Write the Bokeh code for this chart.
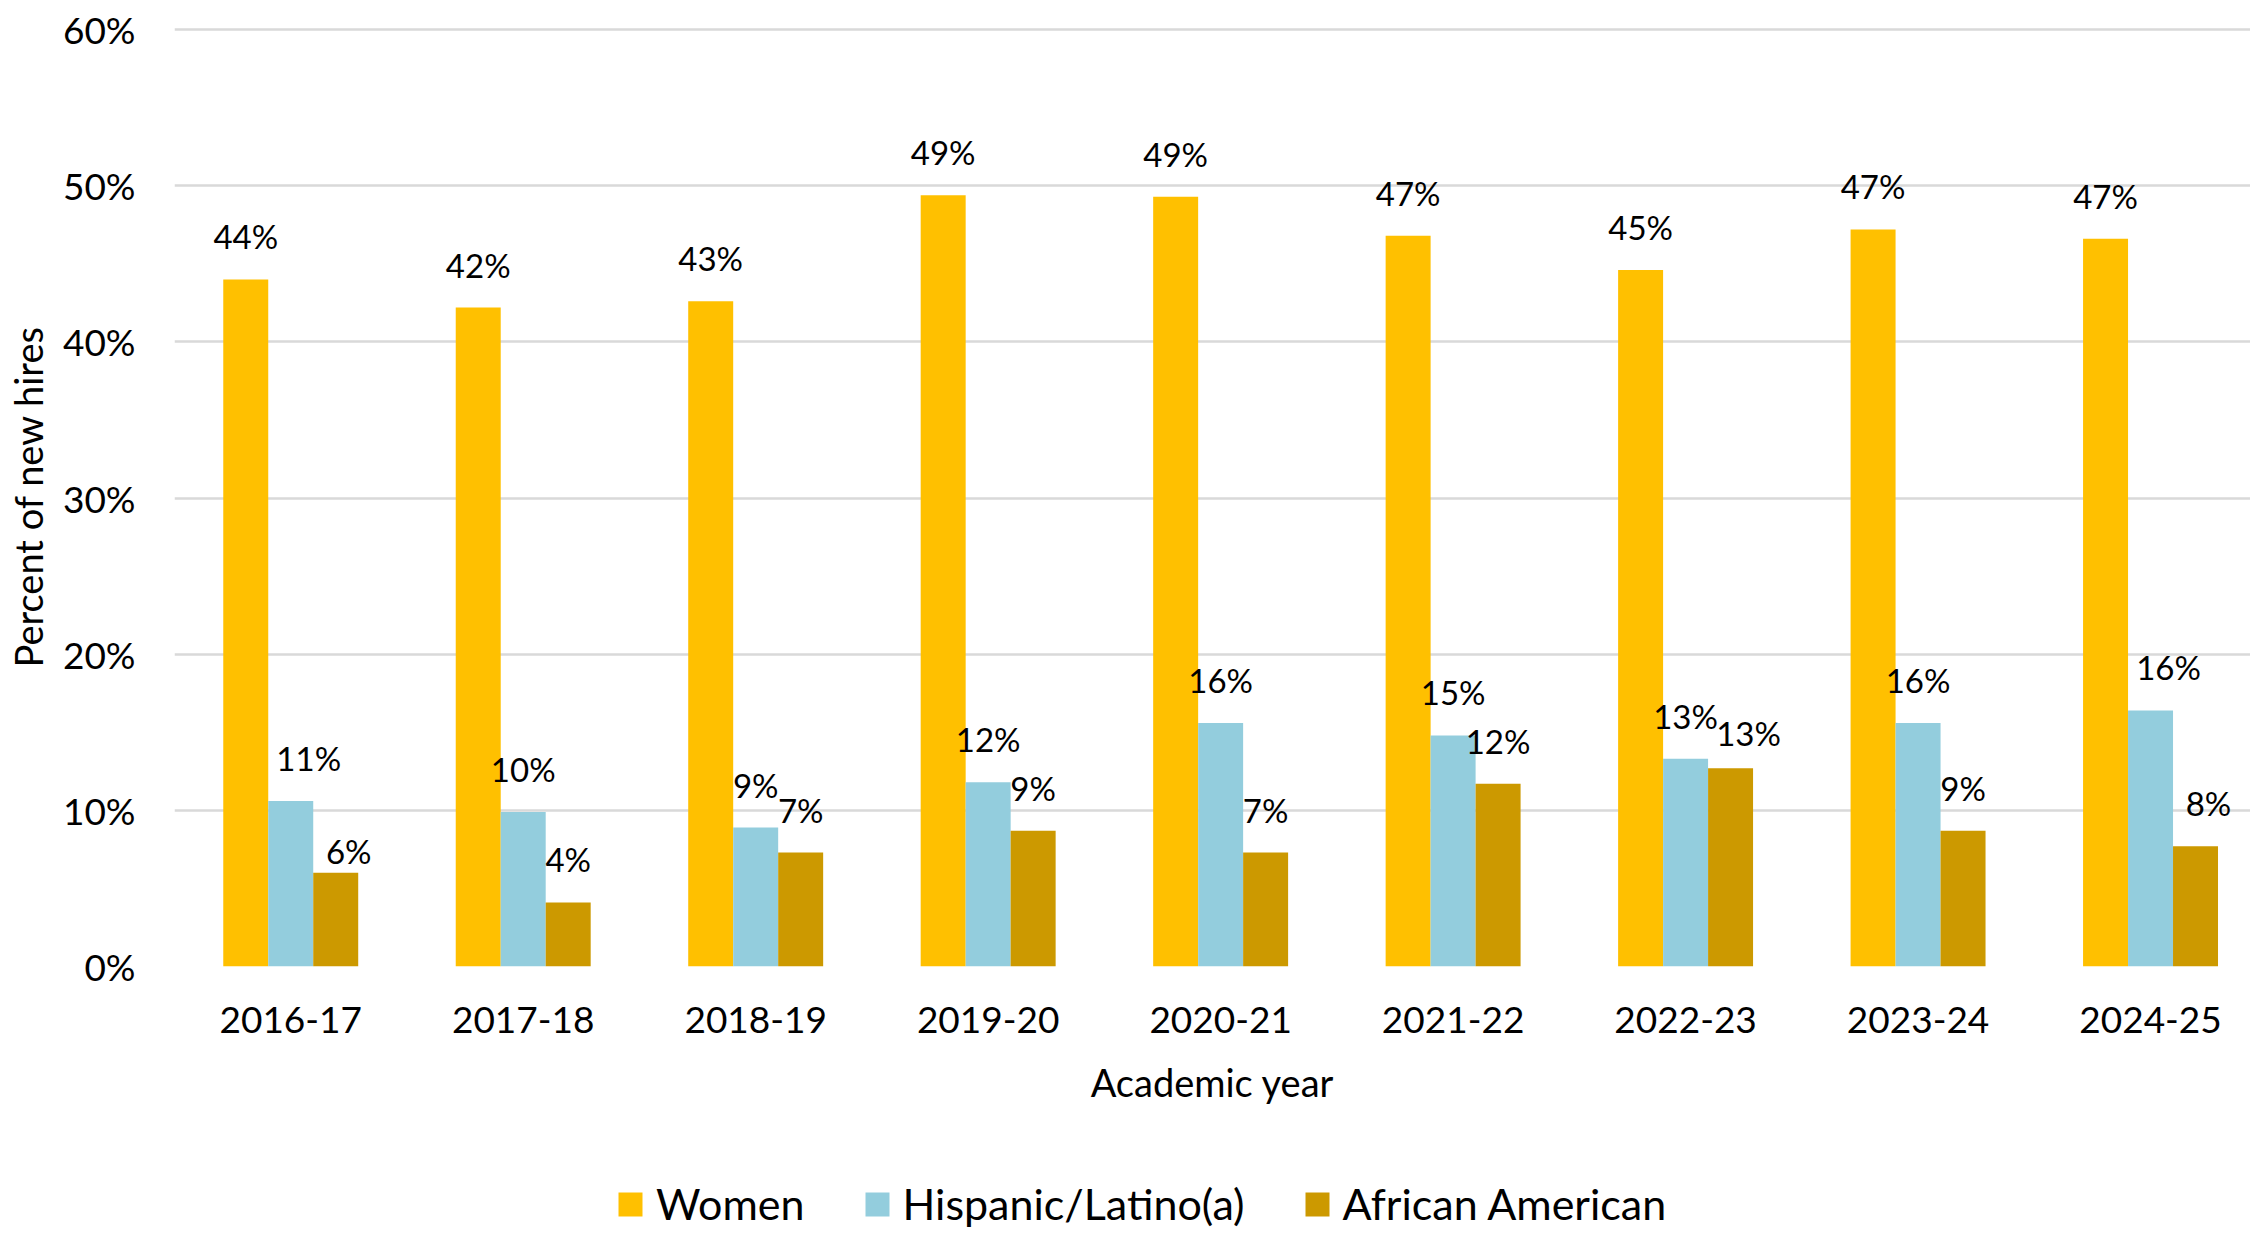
from bokeh.plotting import figure
from bokeh.layouts import column
from bokeh.models import (Range1d, FixedTicker, PrintfTickFormatter, ColumnDataSource,
                          Legend, LegendItem)
from bokeh.transform import dodge
from bokeh.core.properties import value
from bokeh.embed import file_html
from bokeh.resources import INLINE

# Academic years and share of new hires (percent) per group
years = ["2016-17", "2017-18", "2018-19", "2019-20", "2020-21",
         "2021-22", "2022-23", "2023-24", "2024-25"]
women = [44.0, 42.2, 42.6, 49.4, 49.3, 46.8, 44.6, 47.2, 46.6]
hispanic = [10.6, 9.9, 8.9, 11.8, 15.6, 14.8, 13.3, 15.6, 16.4]
african_american = [6.0, 4.1, 7.3, 8.7, 7.3, 11.7, 12.7, 8.7, 7.7]
series_names = ["Women", "Hispanic/Latino(a)", "African American"]
y_ticks = [0, 10, 20, 30, 40, 50, 60]

COLORS = ["#FFC000", "#93CDDD", "#CC9900"]
FONT = "Lato"
BAR_W = 0.1935
LABEL_RISE = 43  # px between bar top and label centre

# small per-label nudges (dx right, dy up, in px) where labels would collide
nudges = {
    "Hispanic/Latino(a)": {0: (18, 0), 8: (18, 0)},
    "African American": {0: (13, -21), 6: (18, -8), 8: (13, 0)},
}

idx = list(range(len(years)))
src = ColumnDataSource(dict(idx=idx, women=women, hispanic=hispanic,
                            african_american=african_american))

p = figure(width=2250, height=1150,
           x_range=Range1d(-0.5, 8.43), y_range=Range1d(0, 60.2),
           output_backend="svg", toolbar_location=None,
           min_border_left=174, min_border_right=0,
           min_border_top=26, min_border_bottom=184)
p.outline_line_color = None
p.background_fill_color = "white"
p.border_fill_color = "white"

# axes
p.xaxis.ticker = FixedTicker(ticks=idx)
p.xaxis.major_label_overrides = {i: y for i, y in zip(idx, years)}
p.yaxis.ticker = FixedTicker(ticks=y_ticks)
p.yaxis.formatter = PrintfTickFormatter(format="%d%%")
for ax in (p.xaxis, p.yaxis):
    ax.axis_line_color = None
    ax.major_tick_line_color = None
    ax.minor_tick_line_color = None
    ax.major_tick_out = 0
    ax.major_tick_in = 0
    ax.minor_tick_out = 0
    ax.minor_tick_in = 0
    ax.major_label_text_font = FONT
    ax.major_label_text_font_size = "37px"
    ax.major_label_text_color = "#000000"
    ax.axis_label_text_font = FONT
    ax.axis_label_text_font_size = "38px"
    ax.axis_label_text_font_style = "normal"
    ax.axis_label_text_color = "#000000"
p.yaxis.major_label_standoff = 39
p.yaxis.axis_label = "Percent of new hires"
p.yaxis.axis_label_standoff = 9
p.xaxis.major_label_standoff = 40
p.xaxis.axis_label = "Academic year"
p.xaxis.axis_label_standoff = 23

p.xgrid.grid_line_color = None
p.ygrid.ticker = FixedTicker(ticks=y_ticks)
p.ygrid.grid_line_color = "#D9D9D9"
p.ygrid.grid_line_width = 2.5

cols = ["women", "hispanic", "african_american"]
offsets = [-BAR_W, 0.0, BAR_W]
for col, off, color, name in zip(cols, offsets, COLORS, series_names):
    p.vbar(x=dodge("idx", off, range=p.x_range), top=col, width=BAR_W,
           source=src, fill_color=color, line_color=None)

    vals = src.data[col]
    nd = nudges.get(name, {})
    dx = [nd.get(i, (0, 0))[0] for i in idx]
    dy = [-(LABEL_RISE + nd.get(i, (0, 0))[1]) for i in idx]
    lsrc = ColumnDataSource(dict(idx=idx, top=vals,
                                 text=[f"{round(v)}%" for v in vals],
                                 dx=dx, dy=dy))
    p.text(x=dodge("idx", off, range=p.x_range), y="top", text="text",
           x_offset="dx", y_offset="dy", source=lsrc,
           text_font=value(FONT), text_font_size="33px", text_color="#000000",
           text_align="center", text_baseline="middle")

# legend strip beneath the chart (its frame lines up with the chart's frame)
leg = figure(width=2250, height=87, x_range=Range1d(0, 1), y_range=Range1d(0, 1),
             output_backend="svg", toolbar_location=None,
             min_border_left=0, min_border_right=0, min_border_top=0,
             min_border_bottom=0)
leg.axis.visible = False
leg.grid.visible = False
leg.outline_line_color = None
# swatch renderers: a single point parked outside the strip's view
leg_renderers = [leg.vbar(x=[5], top=[5], width=0.1, fill_color=c, line_color=None)
                 for c in COLORS]
legend = Legend(items=[LegendItem(label=n, renderers=[r])
                       for n, r in zip(series_names, leg_renderers)],
                orientation="horizontal", location=(441, 8),
                glyph_width=30, glyph_height=30, label_standoff=11,
                spacing=57, padding=0, margin=0,
                border_line_color=None, background_fill_alpha=0,
                label_text_font=FONT, label_text_font_size="43px",
                label_text_color="#000000")
leg.add_layout(legend, "center")

open("out.html", "w").write(file_html(column(p, leg, spacing=0), INLINE))
